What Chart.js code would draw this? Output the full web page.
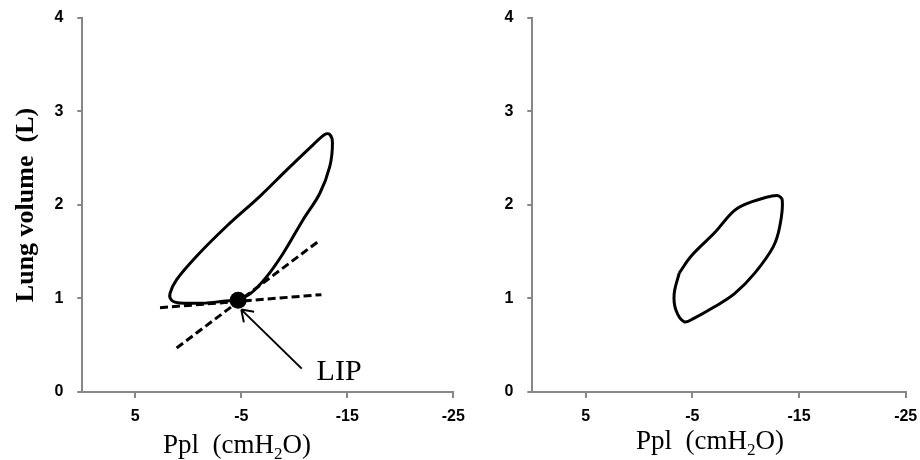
<!DOCTYPE html>
<html>
<head>
<meta charset="utf-8">
<script src="https://cdn.jsdelivr.net/npm/chart.js@4"></script>
<style>
  html, body { margin: 0; padding: 0; background: #fff; }
  #wrap { position: relative; width: 920px; height: 460px; overflow: hidden; }
  #left { position: absolute; left: 0; top: 0; }
  #right { position: absolute; left: 460px; top: 0; }
</style>
</head>
<body>
<div id="wrap">
  <canvas id="left" width="470" height="460"></canvas>
  <canvas id="right" width="460" height="460"></canvas>
</div>
<script>
// ejes
const xTicks = [5, -5, -15, -25];
const yTicks = [0, 1, 2, 3, 4];

// curva P-V izquierda (Ppl cmH2O, volumen L)
const leftLoopX = [-1.72, -4.23, -4.7, -5.85, -7.38, -8.94, -10.83, -12.4, -13.35, -13.6, -13.35, -12.87, -11.77, -9.27, -6.75, -3.61, -0.78, 1.1, 1.73, 1.57, 0.79, -1.72];
const leftLoopY = [0.95, 0.98, 0.99, 1.05, 1.23, 1.48, 1.84, 2.12, 2.41, 2.66, 2.75, 2.75, 2.64, 2.37, 2.09, 1.77, 1.45, 1.2, 1.05, 0.98, 0.95, 0.95];

// tangentes (discontinuas)
const flatTangentX = [2.67, -12.56];
const flatTangentY = [0.9, 1.04];
const steepTangentX = [1.1, -12.4];
const steepTangentY = [0.47, 1.62];

// punto de inflexion inferior
const lipX = [-4.7];
const lipY = [0.98];
const arrowX = [-10.7, -5.0];
const arrowY = [0.25, 0.88];
const lipLabel = 'LIP';
const lipLabelX = -12.1;
const lipLabelY = 0.128;

// curva P-V derecha
const rightLoopX = [-3.77, -4.88, -7.08, -8.96, -10.54, -12.9, -13.43, -13.2, -12.58, -10.85, -8.96, -7.08, -5.19, -4.25, -3.46, -3.3, -3.77];
const rightLoopY = [1.27, 1.45, 1.7, 1.94, 2.03, 2.1, 2.05, 1.77, 1.55, 1.27, 1.05, 0.91, 0.79, 0.75, 0.876, 1.05, 1.27];

const AXIS_GRAY = '#878787';

function pts(xs, ys) {
  return xs.map((x, i) => ({ x: x, y: ys[i] }));
}

function lineSet(xs, ys, extra) {
  return Object.assign({
    data: pts(xs, ys),
    showLine: true,
    borderColor: '#000',
    borderWidth: 3,
    pointRadius: 0,
    fill: false
  }, extra || {});
}

// titulos de ejes dibujados a mano para colocarlos igual que en la figura
function titlesPlugin(cfg) {
  return {
    id: 'titles',
    afterDraw(chart) {
      const ctx = chart.ctx;
      ctx.save();
      ctx.fillStyle = '#000';
      ctx.textBaseline = 'alphabetic';
      ctx.textAlign = 'left';
      // titulo x con subindice
      let x = cfg.xTitleX;
      const y = cfg.xTitleY;
      const big = '27px "Liberation Serif", serif';
      const small = '17px "Liberation Serif", serif';
      ctx.font = big;
      ctx.fillText('Ppl  (cmH', x, y);
      x += ctx.measureText('Ppl  (cmH').width;
      ctx.font = small;
      ctx.fillText('2', x, y + 6);
      x += ctx.measureText('2').width;
      ctx.font = big;
      ctx.fillText('O)', x, y);

      if (cfg.yTitle) {
        ctx.translate(cfg.yTitleX, cfg.yTitleY);
        ctx.rotate(-Math.PI / 2);
        ctx.textAlign = 'center';
        ctx.font = 'bold 26px "Liberation Serif", serif';
        ctx.fillText(cfg.yTitle, 0, 0);
      }
      ctx.restore();

      if (cfg.lip) {
        const sx = chart.scales.x, sy = chart.scales.y;
        ctx.save();
        // punta de flecha
        const tx = sx.getPixelForValue(arrowX[1]), ty = sy.getPixelForValue(arrowY[1]);
        const fx = sx.getPixelForValue(arrowX[0]), fy = sy.getPixelForValue(arrowY[0]);
        const ang = Math.atan2(fy - ty, fx - tx);
        ctx.strokeStyle = '#000';
        ctx.lineWidth = 2;
        ctx.beginPath();
        [0.6, -0.6].forEach(d => {
          ctx.moveTo(tx, ty);
          ctx.lineTo(tx + 13 * Math.cos(ang + d), ty + 13 * Math.sin(ang + d));
        });
        ctx.stroke();
        ctx.fillStyle = '#000';
        ctx.font = '30px "Liberation Serif", serif';
        ctx.textAlign = 'left';
        ctx.textBaseline = 'alphabetic';
        ctx.fillText(lipLabel, sx.getPixelForValue(lipLabelX), sy.getPixelForValue(lipLabelY));
        ctx.restore();
      }
    }
  };
}

function makeScales(yWidth) {
  return {
    x: {
      type: 'linear',
      min: -25,
      max: 10,
      reverse: true,
      afterBuildTicks: s => { s.ticks = xTicks.map(v => ({ value: v })); },
      afterFit: s => { s.height = 68; s.paddingLeft = 0; s.paddingRight = 0; },
      border: { color: AXIS_GRAY, width: 2 },
      grid: { drawOnChartArea: false, drawTicks: true, tickLength: 6, color: AXIS_GRAY, lineWidth: 2 },
      ticks: {
        autoSkip: false,
        maxRotation: 0,
        padding: 9,
        color: '#000',
        font: { family: '"Liberation Sans", Arial, sans-serif', size: 16, weight: 'bold' }
      }
    },
    y: {
      type: 'linear',
      min: 0,
      max: 4,
      afterBuildTicks: s => { s.ticks = yTicks.map(v => ({ value: v })); },
      afterFit: s => { s.width = yWidth; s.paddingTop = 0; s.paddingBottom = 0; },
      border: { color: AXIS_GRAY, width: 2 },
      grid: { drawOnChartArea: false, drawTicks: true, tickLength: 5, color: AXIS_GRAY, lineWidth: 2 },
      ticks: {
        padding: 14,
        color: '#000',
        font: { family: '"Liberation Sans", Arial, sans-serif', size: 16, weight: 'bold' }
      }
    }
  };
}

const commonPlugins = { legend: { display: false }, tooltip: { enabled: false } };

new Chart(document.getElementById('left'), {
  type: 'scatter',
  data: {
    datasets: [
      lineSet(lipX, lipY, { showLine: false, pointRadius: 8.5, pointBackgroundColor: '#000', pointBorderWidth: 0 }),
      lineSet(leftLoopX, leftLoopY, { tension: 0.35 }),
      lineSet(flatTangentX, flatTangentY, { borderDash: [8, 4] }),
      lineSet(steepTangentX, steepTangentY, { borderDash: [8, 4] }),
      lineSet(arrowX, arrowY, { borderWidth: 2 })
    ]
  },
  options: {
    responsive: false,
    animation: false,
    layout: { padding: { top: 17.5, right: 16.7, bottom: 0, left: 0 } },
    scales: makeScales(82.3),
    plugins: commonPlugins
  },
  plugins: [titlesPlugin({ xTitleX: 163, xTitleY: 453, yTitle: 'Lung volume  (L)', yTitleX: 33, yTitleY: 205, lip: true })]
});

new Chart(document.getElementById('right'), {
  type: 'scatter',
  data: {
    datasets: [
      lineSet(rightLoopX, rightLoopY, { tension: 0.35 })
    ]
  },
  options: {
    responsive: false,
    animation: false,
    layout: { padding: { top: 17.5, right: 14.3, bottom: 0, left: 0 } },
    scales: makeScales(72.3),
    plugins: commonPlugins
  },
  plugins: [titlesPlugin({ xTitleX: 176, xTitleY: 449 })]
});
</script>
</body>
</html>
